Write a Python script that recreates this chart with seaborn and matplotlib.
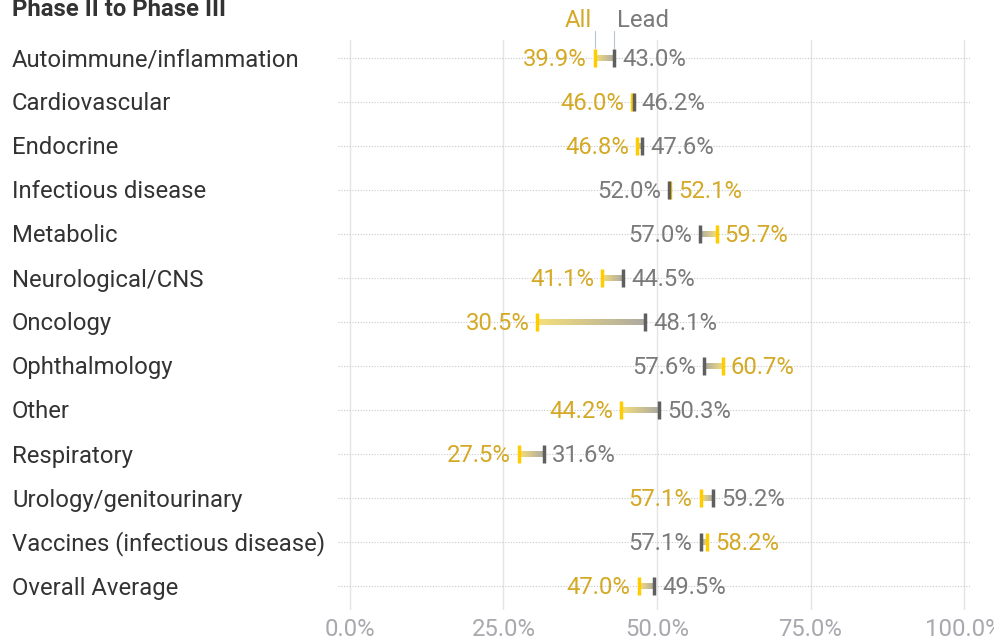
import numpy as np
import pandas as pd
import matplotlib
matplotlib.use("Agg")
import matplotlib.pyplot as plt
from matplotlib.colors import LinearSegmentedColormap
import seaborn as sns

categories = [
    "Autoimmune/inflammation", "Cardiovascular", "Endocrine", "Infectious disease",
    "Metabolic", "Neurological/CNS", "Oncology", "Ophthalmology", "Other",
    "Respiratory", "Urology/genitourinary", "Vaccines (infectious disease)",
    "Overall Average",
]
all_vals = [39.9, 46.0, 46.8, 52.1, 59.7, 41.1, 30.5, 60.7, 44.2, 27.5, 57.1, 58.2, 47.0]
lead_vals = [43.0, 46.2, 47.6, 52.0, 57.0, 44.5, 48.1, 57.6, 50.3, 31.6, 59.2, 57.1, 49.5]
x_ticks = [0, 25, 50, 75, 100]
x_tick_labels = ["0.0%", "25.0%", "50.0%", "75.0%", "100.0%"]

sns.set_theme(style="white")
plt.rcParams["font.family"] = ["Roboto", "DejaVu Sans"]

GOLD_MARK = "#FFCC00"
GOLD_TEXT = "#D4A925"
GRAY_MARK = "#5f5f5f"
GRAY_TEXT = "#7a7a7a"
FS = 17.2

W, H = 995, 642
fig = plt.figure(figsize=(W / 100, H / 100), dpi=100)
ax_l, ax_r, ax_t, ax_b = 338, 970, 40, 610
ax = fig.add_axes([ax_l / W, 1 - ax_b / H, (ax_r - ax_l) / W, (ax_b - ax_t) / H])

df = pd.DataFrame({"category": categories, "All": all_vals, "Lead": lead_vals})
df["row"] = np.arange(len(df))

# x scale: 0% at px 350, 100% at px 964
ppx = (964 - 350) / 100.0
ax.set_xlim(-(350 - ax_l) / ppx, 100 + (ax_r - 964) / ppx)
ylim = ((ax_b - 58) / 44.0, -(58 - ax_t) / 44.0)
ax.set_ylim(*ylim)

# vertical gridlines
for t in x_ticks:
    ax.axvline(t, color="#e4e4e4", lw=1.0, zorder=0)

# dotted row guides
for r in df["row"]:
    ax.axhline(r, color="#c8c8c8", lw=0.8, ls=(0, (1, 1.5)), zorder=0.5)

# gradient connectors between the two values
cmap = LinearSegmentedColormap.from_list("allead", ["#f6df7a", "#aca9a2"])
grad = np.linspace(0, 1, 256).reshape(1, -1)
bh = 0.068
for _, row in df.iterrows():
    a, l, r = row["All"], row["Lead"], row["row"]
    g = grad if l >= a else grad[:, ::-1]
    ax.imshow(g, cmap=cmap, extent=[min(a, l), max(a, l), r + bh, r - bh],
              aspect="auto", zorder=1, interpolation="bilinear")

long = df.melt(id_vars=["category", "row"], value_vars=["All", "Lead"],
               var_name="series", value_name="value")
sns.scatterplot(data=long, x="value", y="row", hue="series",
                palette={"All": GOLD_MARK, "Lead": GRAY_MARK},
                marker="|", s=170, linewidth=2.5, legend=False, ax=ax, zorder=3)
ax.set_ylim(*ylim)

# value labels: lower value on the left, higher on the right
gap = 8 / ppx
dy = 1.5 / 44.0
for _, row in df.iterrows():
    a, l, r = row["All"], row["Lead"], row["row"]
    if a <= l:
        left, lc, right, rc = a, GOLD_TEXT, l, GRAY_TEXT
    else:
        left, lc, right, rc = l, GRAY_TEXT, a, GOLD_TEXT
    ax.text(left - gap, r + dy, f"{left:.1f}%", ha="right", va="center",
            color=lc, fontsize=FS, zorder=4)
    ax.text(right + gap, r + dy, f"{right:.1f}%", ha="left", va="center",
            color=rc, fontsize=FS, zorder=4)

# category labels
for _, row in df.iterrows():
    ax.text(12 / W, 1 - (60 + 44 * row["row"]) / H, row["category"],
            transform=fig.transFigure, ha="left", va="center",
            color="#333333", fontsize=FS)

# series key above the first row
a0, l0 = all_vals[0], lead_vals[0]
for xv in (a0, l0):
    ax.plot([xv, xv], [-0.62, -0.22], color="#b8c4cc", lw=0.8,
            clip_on=False, zorder=2)
ax.text(a0 - 3 / ppx, -0.86, "All", ha="right", va="center",
        color=GOLD_TEXT, fontsize=FS, clip_on=False)
ax.text(l0 + 3 / ppx, -0.86, "Lead", ha="left", va="center",
        color=GRAY_TEXT, fontsize=FS, clip_on=False)

fig.text(12 / W, 1 - 9 / H, "Phase II to Phase III", ha="left", va="center",
         fontsize=FS, fontweight="bold", color="#333333")

ax.set_xticks(x_ticks)
ax.set_xticklabels(x_tick_labels, color="#a8a8ae", fontsize=FS)
ax.tick_params(axis="x", length=0, pad=6)
ax.set_yticks([])
ax.set_xlabel("")
ax.set_ylabel("")
for s in ax.spines.values():
    s.set_visible(False)
ax.patch.set_alpha(0)

fig.savefig("out.png", dpi=100)
